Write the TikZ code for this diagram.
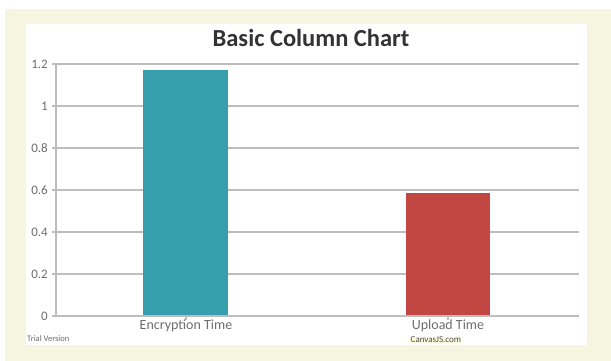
\documentclass[tikz,border=0pt]{standalone}
\usepackage{fontspec}
\setmainfont{Carlito}
\definecolor{cream}{HTML}{F6F6E0}
\definecolor{teal1}{HTML}{369EAD}
\definecolor{red1}{HTML}{C24642}
\definecolor{gridc}{HTML}{BDBDBD}
\definecolor{labc}{HTML}{6E6E6E}
\tikzset{
  grid line/.style={draw=gridc, line width=1.2pt},
  axis line/.style={draw=gridc, line width=1.6pt},
  ylab/.style={anchor=east, text=labc, font=\fontsize{13}{13}\selectfont, inner sep=0pt},
  xlab/.style={anchor=north, text=labc, font=\fontsize{14}{14}\selectfont, inner sep=0pt},
  bar/.style={draw=none},
}
\begin{document}
\begin{tikzpicture}[x=1pt,y=-1pt]
\useasboundingbox (0,0) rectangle (611,361);
\fill[white] (0,0) rectangle (611,361);
\fill[cream] (5,9) rectangle (611,361);
\fill[white] (26,24) rectangle (587,345);
% title
\node[font=\bfseries\fontsize{24.5}{24.5}\selectfont, text=black!80, anchor=base] (title) at (311,47) {Basic Column Chart};
% grid lines and y labels
\foreach \v/\lab in {0/0,1/0.2,2/0.4,3/0.6,4/0.8,5/1,6/1.2}{
  \pgfmathsetmacro{\yy}{316-42*\v}
  \ifnum\v>0
    \draw[grid line] (52,\yy) -- (579,\yy);
  \fi
  \node[ylab] (yl\v) at (48,\yy) {\lab};
}
% bars
\fill[teal1] (143,316) rectangle (228,70);
\fill[red1] (406,316) rectangle (490,193);
% axes
\draw[axis line] (56,63) -- (56,316);
\draw[axis line] (52,316) -- (579,316);
\draw[gridc, line width=1.2pt] (186,316) -- (186,320);
\draw[gridc, line width=1.2pt] (448,316) -- (448,320);
% x labels
\node[xlab] (c1) at (186,320) {Encryption Time};
\node[xlab] (c2) at (448,320) {Upload Time};
% watermarks
\node[anchor=west, text=labc, font=\fontsize{8.5}{8.5}\selectfont, inner sep=0pt] (trial) at (27,339) {Trial Version};
\node[anchor=west, text=black!70, fill=yellow!12, font=\fontsize{9}{9}\selectfont, inner sep=0.5pt] (cjs) at (410,340) {CanvasJS.com};
\end{tikzpicture}
\end{document}
